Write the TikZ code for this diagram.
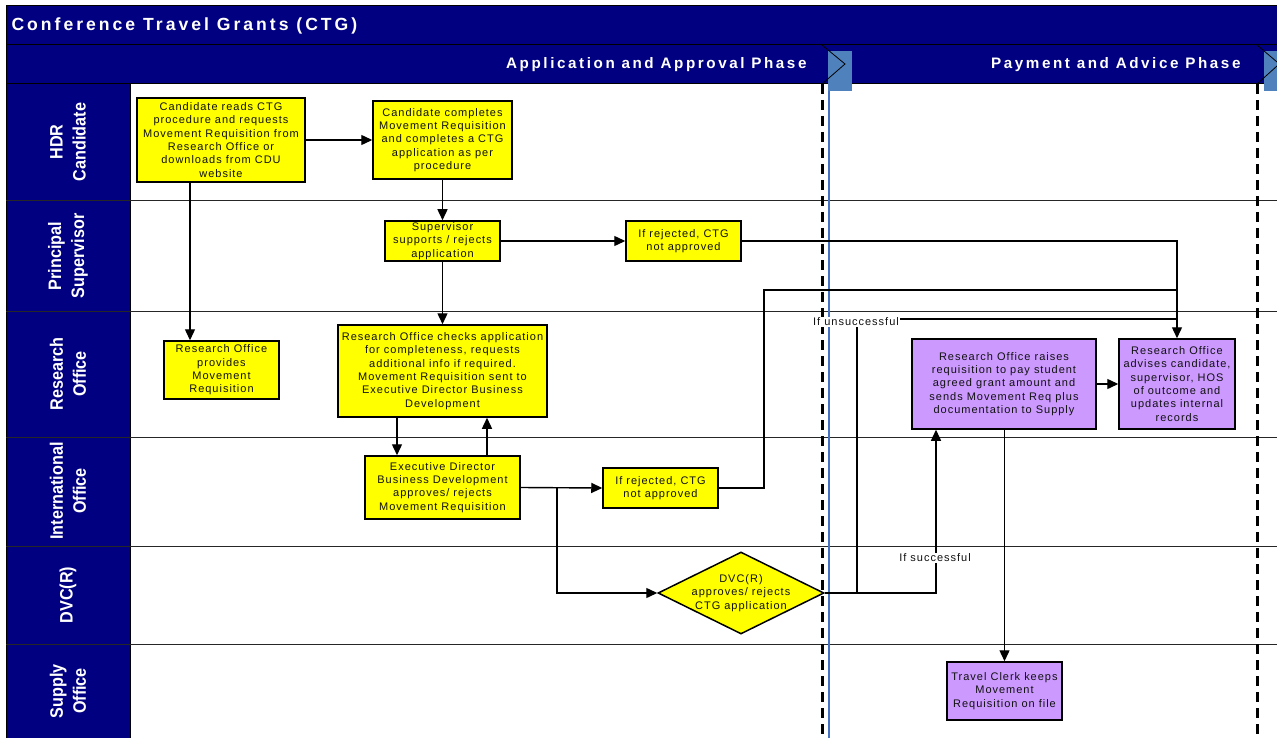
\documentclass[tikz,border=0pt]{standalone}
\usepackage{fontspec}
\setmainfont{Liberation Sans}
\newfontfamily\boxfont{Liberation Sans}[LetterSpace=9]
\newfontfamily\hdrfont{Liberation Sans}[LetterSpace=17]
\newfontfamily\lanefont{Liberation Sans}[FakeStretch=0.9]
\usetikzlibrary{arrows.meta,shapes.geometric}
\definecolor{navy}{HTML}{000080}
\definecolor{chev}{HTML}{4F81BD}
\definecolor{bline}{HTML}{4472C4}
\definecolor{ybox}{HTML}{FFFF00}
\definecolor{pbox}{HTML}{CC99FF}
\definecolor{txt}{HTML}{111111}
\begin{document}
\begin{tikzpicture}[x=1pt,y=-1pt,
  boxbase/.style={draw=black, line width=1.5pt, inner sep=0pt, align=center,
    text=txt, font=\boxfont\fontsize{11}{13.3}\selectfont},
  ybx/.style={boxbase, fill=ybox},
  pbx/.style={boxbase, fill=pbox},
  conn/.style={draw=black, line width=1.4pt, -{Triangle[length=11pt,width=10pt]}},
  plain/.style={draw=black, line width=1.4pt},
  lbl/.style={fill=white, inner sep=1pt, text=txt, font=\boxfont\fontsize{11}{13.3}\selectfont},
  lanelbl/.style={rotate=90, text=white, align=center, font=\lanefont\bfseries\fontsize{18}{23}\selectfont},
  lane/.style={draw=black!85, line width=1pt},
  phasetxt/.style={text=white, anchor=east, font=\hdrfont\bfseries\fontsize{15.2}{17}\selectfont},
  phasedash/.style={draw=black, line width=3pt, dash pattern=on 10pt off 6pt}
]
\useasboundingbox (0,0) rectangle (1277,738);
\fill[white] (0,0) rectangle (1277,738);
% header bars
\fill[navy] (6,6) rectangle (1277,84);
\fill[navy] (6,84) rectangle (130,738);
\draw[black, line width=1pt] (6,738) -- (6,6) -- (1277,6);
\draw[black, line width=1pt] (6,45) -- (1277,45);
\draw[black, line width=1pt] (6,84) -- (1277,84);
\draw[black, line width=1pt] (130,84) -- (130,738);
\node[anchor=west, text=white, font=\hdrfont\bfseries\fontsize{17.6}{19}\selectfont] (title) at (8,26) {Conference Travel Grants (CTG)};
\node[phasetxt] (ph1) at (810,65) {Application and Approval Phase};
\node[phasetxt] (ph2) at (1244,65) {Payment and Advice Phase};
% chevrons
\fill[chev] (828,51) rectangle (852,91);
\draw[black, line width=0.8pt] (822,45) -- (845,64) -- (822,84);
\fill[chev] (1264,51) rectangle (1277,91);
\draw[black, line width=0.8pt] (1257,45) -- (1277,62);
\draw[black, line width=0.8pt] (1257,84) -- (1277,66);
% lanes
\foreach \y in {201,311,437,546,644} {
  \draw[lane] (6,\y) -- (1277,\y);
}
\node[lanelbl] (l1) at (68,142) {HDR\\Candidate};
\node[lanelbl] (l2) at (68,256) {Principal\\Supervisor};
\node[lanelbl] (l3) at (68,374) {Research\\Office};
\node[lanelbl] (l4) at (68,491) {International\\Office};
\node[lanelbl] (l5) at (68,595) {DVC(R)};
\node[lanelbl] (l6) at (68,691) {Supply\\Office};
% phase separators
\draw[phasedash] (822,84) -- (822,738);
\draw[phasedash] (1257,84) -- (1257,738);
\draw[bline, line width=2.4pt] (829,91) -- (829,738);
% nodes
\node[ybx, minimum width=168pt, minimum height=84pt] (b1) at (221,140)
  {Candidate reads CTG\\procedure and requests\\Movement Requisition from\\Research Office or\\downloads from CDU\\website};
\node[ybx, minimum width=139pt, minimum height=78pt] (b2) at (442.5,140)
  {Candidate completes\\Movement Requisition\\and completes a CTG\\application as per\\procedure};
\node[ybx, minimum width=115pt, minimum height=40pt] (b3) at (442.5,241)
  {Supervisor\\supports / rejects\\application};
\node[ybx, minimum width=115pt, minimum height=40pt] (b4) at (683.5,241)
  {If rejected, CTG\\not approved};
\node[ybx, minimum width=115pt, minimum height=58pt] (b5) at (221.5,370)
  {Research Office\\provides\\Movement\\Requisition};
\node[ybx, minimum width=209pt, minimum height=92pt] (b6) at (442.5,371)
  {Research Office checks application\\for completeness, requests\\additional info if required.\\Movement Requisition sent to\\Executive Director Business\\Development};
\node[ybx, minimum width=155pt, minimum height=63pt] (b7) at (442.5,487.5)
  {Executive Director\\Business Development\\approves/ rejects\\Movement Requisition};
\node[ybx, minimum width=115pt, minimum height=40pt] (b8) at (660.5,488)
  {If rejected, CTG\\not approved};
\node[draw=black, line width=1.5pt, fill=ybox, diamond, aspect=2, inner sep=0pt,
  minimum width=166pt, minimum height=82pt] (dia) at (741,593) {};
\node[align=center, text=txt, font=\boxfont\fontsize{11}{13.3}\selectfont] (diat) at (dia.center)
  {DVC(R)\\approves/ rejects\\CTG application};
\node[pbx, minimum width=184pt, minimum height=90pt] (b9) at (1004,384)
  {Research Office raises\\requisition to pay student\\agreed grant amount and\\sends Movement Req plus\\documentation to Supply};
\node[pbx, minimum width=116pt, minimum height=90pt] (b10) at (1177,384)
  {Research Office\\advises candidate,\\supervisor, HOS\\of outcome and\\updates internal\\records};
\node[pbx, minimum width=115pt, minimum height=58pt] (b11) at (1004.5,691)
  {Travel Clerk keeps\\Movement\\Requisition on file};
% helper coordinates
\coordinate (xa) at (190,0);
\coordinate (xb) at (397,0);
\coordinate (xc) at (487,0);
\coordinate (xd) at (557,0);
\coordinate (p1) at (764,290);
\coordinate (p2) at (857,319);
\coordinate (xf) at (936,0);
% connectors
\draw[conn] (b1.east) -- (b2.west);
\draw[conn] (b1.south -| xa) -- (b5.north -| xa);
\draw[conn] (b2.south) -- (b3.north);
\draw[conn] (b3.east) -- (b4.west);
\draw[conn] (b3.south) -- (b6.north);
\draw[conn] (b4.east) -| (b10.north);
\draw[conn] (b6.south -| xb) -- (b7.north -| xb);
\draw[conn] (b7.north -| xc) -- (b6.south -| xc);
\draw[conn] (b7.east) -- (b8.west);
\draw[conn] (b7.east -| xd) |- (dia.west);
\draw[plain] (b8.east) -| (p1) -- (p1 -| b10.north);
\draw[plain] (dia.east) -| (p2) -- (p2 -| b10.north);
\draw[conn] (dia.east) -| (b9.south -| xf);
\draw[conn] (b9.east) -- (b10.west);
\draw[conn] (b9.south -| b11.north) -- (b11.north);
% connector labels
\node[lbl] (lu) at (856,322) {If unsuccessful};
\node[lbl] (ls) at (935,558) {If successful};
\end{tikzpicture}
\end{document}
